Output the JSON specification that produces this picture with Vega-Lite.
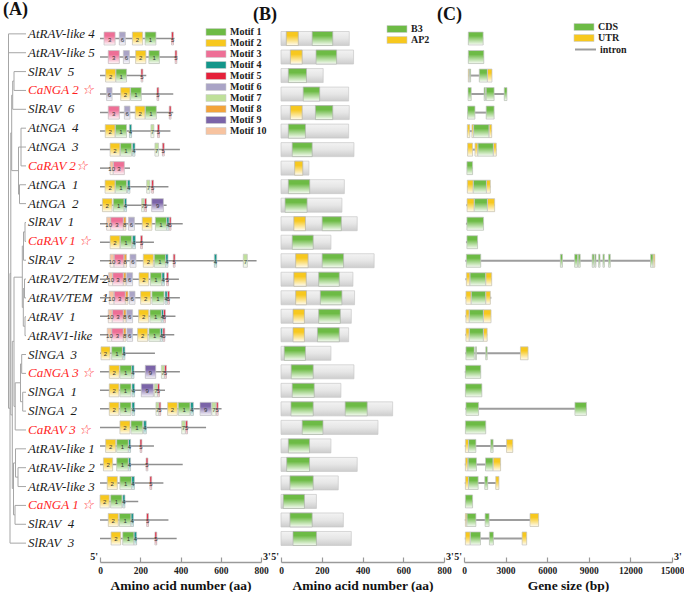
{
"$schema":"https://vega.github.io/schema/vega-lite/v6.json",
"padding":{"left":2,"top":0,"right":0,"bottom":0},
"bounds":"flush",
"spacing":20,
"background":"white",
"config":{
 "view":{"stroke":null},
 "font":"Liberation Serif",
 "axis":{"grid":false,"labelFont":"Liberation Serif","labelFontWeight":"bold","labelFontSize":9.5,"labelColor":"#222","labelOverlap":false,"format":"d","titleFont":"Liberation Serif","titleFontWeight":"bold","titleFontSize":13.5,"titleColor":"#111","domainColor":"#9a9a9a","domainWidth":1.5,"tickColor":"#9a9a9a","tickSize":-5,"tickWidth":1.2,"labelPadding":8,"titlePadding":4,"labelFlush":false},
 "legend":{"title":null,"orient":"none","labelFont":"Liberation Serif","labelFontWeight":"bold","labelFontSize":10,"labelColor":"#222","symbolType":"M-2.86,-1H2.86V1H-2.86Z","symbolSize":49,"symbolStrokeColor":"#cccccc","symbolStrokeWidth":0.6,"labelOffset":9,"rowPadding":1,"padding":0}
},
"resolve":{"scale":{"fill":"independent","stroke":"independent","color":"independent"},"legend":{"fill":"independent","stroke":"independent","color":"independent"}},
"datasets":{
 "tree":[
  {"x":14,"x2":14,"y":2,"y2":3},{"x":12.7,"x2":12.7,"y":2.5,"y2":4},{"x":21,"x2":21,"y":5,"y2":7},{"x":19.5,"x2":19.5,"y":8,"y2":9},{"x":18.5,"x2":18.5,"y":6,"y2":8.5},{"x":11.7,"x2":11.7,"y":3.25,"y2":7.25},{"x":25,"x2":25,"y":10,"y2":11},{"x":23.5,"x2":23.5,"y":10.5,"y2":12},{"x":24.5,"x2":24.5,"y":13,"y2":14},{"x":25,"x2":25,"y":15,"y2":16},{"x":23.3,"x2":23.3,"y":13.5,"y2":15.5},{"x":22.3,"x2":22.3,"y":11.25,"y2":14.5},{"x":21.7,"x2":21.7,"y":17,"y2":18},{"x":22.7,"x2":22.7,"y":19,"y2":20},{"x":20.5,"x2":20.5,"y":17.5,"y2":19.5},{"x":15.2,"x2":15.2,"y":18.5,"y2":21},{"x":14,"x2":14,"y":12.9,"y2":19.75},{"x":18,"x2":18,"y":23,"y2":24},{"x":15.5,"x2":15.5,"y":22,"y2":23.5},{"x":15,"x2":15,"y":25,"y2":26},{"x":13.5,"x2":13.5,"y":22.75,"y2":25.5},{"x":12.3,"x2":12.3,"y":16.3,"y2":24.1},{"x":10.8,"x2":10.8,"y":5.25,"y2":20.2},{"x":10,"x2":10,"y":12.7,"y2":27},{"x":8.5,"x2":8.5,"y":0,"y2":19.85},
  {"x":8.5,"x2":26,"y":0,"y2":0},{"x":8.5,"x2":26,"y":1,"y2":1},{"x":8.5,"x2":10,"y":19.85,"y2":19.85},{"x":10,"x2":10.8,"y":12.7,"y2":12.7},{"x":10,"x2":26,"y":27,"y2":27},{"x":10.8,"x2":11.7,"y":5.25,"y2":5.25},{"x":10.8,"x2":12.3,"y":20.2,"y2":20.2},{"x":11.7,"x2":12.7,"y":3.25,"y2":3.25},{"x":11.7,"x2":18.5,"y":7.25,"y2":7.25},{"x":12.7,"x2":14,"y":2.5,"y2":2.5},{"x":12.7,"x2":26,"y":4,"y2":4},{"x":14,"x2":26,"y":2,"y2":2},{"x":14,"x2":26,"y":3,"y2":3},{"x":18.5,"x2":21,"y":6,"y2":6},{"x":18.5,"x2":19.5,"y":8.5,"y2":8.5},{"x":21,"x2":26,"y":5,"y2":5},{"x":21,"x2":26,"y":6,"y2":6},{"x":21,"x2":26,"y":7,"y2":7},{"x":19.5,"x2":26,"y":8,"y2":8},{"x":19.5,"x2":26,"y":9,"y2":9},{"x":12.3,"x2":14,"y":16.3,"y2":16.3},{"x":12.3,"x2":13.5,"y":24.1,"y2":24.1},{"x":14,"x2":22.3,"y":12.9,"y2":12.9},{"x":14,"x2":15.2,"y":19.75,"y2":19.75},{"x":22.3,"x2":23.5,"y":11.25,"y2":11.25},{"x":22.3,"x2":23.3,"y":14.5,"y2":14.5},{"x":23.5,"x2":25,"y":10.5,"y2":10.5},{"x":23.5,"x2":26,"y":12,"y2":12},{"x":25,"x2":26,"y":10,"y2":10},{"x":25,"x2":26,"y":11,"y2":11},{"x":23.3,"x2":24.5,"y":13.5,"y2":13.5},{"x":23.3,"x2":25,"y":15.5,"y2":15.5},{"x":24.5,"x2":26,"y":13,"y2":13},{"x":24.5,"x2":26,"y":14,"y2":14},{"x":25,"x2":26,"y":15,"y2":15},{"x":25,"x2":26,"y":16,"y2":16},{"x":15.2,"x2":20.5,"y":18.5,"y2":18.5},{"x":15.2,"x2":26,"y":21,"y2":21},{"x":20.5,"x2":21.7,"y":17.5,"y2":17.5},{"x":20.5,"x2":22.7,"y":19.5,"y2":19.5},{"x":21.7,"x2":26,"y":17,"y2":17},{"x":21.7,"x2":26,"y":18,"y2":18},{"x":22.7,"x2":26,"y":19,"y2":19},{"x":22.7,"x2":26,"y":20,"y2":20},{"x":13.5,"x2":15.5,"y":22.75,"y2":22.75},{"x":13.5,"x2":15,"y":25.5,"y2":25.5},{"x":15.5,"x2":26,"y":22,"y2":22},{"x":15.5,"x2":18,"y":23.5,"y2":23.5},{"x":18,"x2":26,"y":23,"y2":23},{"x":18,"x2":26,"y":24,"y2":24},{"x":15,"x2":26,"y":25,"y2":25},{"x":15,"x2":26,"y":26,"y2":26}
 ],
 "names":[
  {"r":0,"n":"AtRAV-like 4","c":"o"},{"r":1,"n":"AtRAV-like 5","c":"o"},{"r":2,"n":"SlRAV\u00a0 5","c":"o"},{"r":3,"n":"CaNGA 2 \u2606","c":"ca"},{"r":4,"n":"SlRAV\u00a0 6","c":"o"},{"r":5,"n":"AtNGA\u00a0 4","c":"o"},{"r":6,"n":"AtNGA\u00a0 3","c":"o"},{"r":7,"n":"CaRAV 2\u2606","c":"ca"},{"r":8,"n":"AtNGA\u00a0 1","c":"o"},{"r":9,"n":"AtNGA\u00a0 2","c":"o"},{"r":10,"n":"SlRAV\u00a0 1","c":"o"},{"r":11,"n":"CaRAV 1 \u2606","c":"ca"},{"r":12,"n":"SlRAV\u00a0 2","c":"o"},{"r":13,"n":"AtRAV2/TEM 2","c":"o"},{"r":14,"n":"AtRAV/TEM\u00a0 \u00a01","c":"o"},{"r":15,"n":"AtRAV\u00a0 1","c":"o"},{"r":16,"n":"AtRAV1-like","c":"o"},{"r":17,"n":"SlNGA\u00a0 3","c":"o"},{"r":18,"n":"CaNGA 3 \u2606","c":"ca"},{"r":19,"n":"SlNGA\u00a0 1","c":"o"},{"r":20,"n":"SlNGA\u00a0 2","c":"o"},{"r":21,"n":"CaRAV 3 \u2606","c":"ca"},{"r":22,"n":"AtRAV-like 1","c":"o"},{"r":23,"n":"AtRAV-like 2","c":"o"},{"r":24,"n":"AtRAV-like 3","c":"o"},{"r":25,"n":"CaNGA 1 \u2606","c":"ca"},{"r":26,"n":"SlRAV\u00a0 4","c":"o"},{"r":27,"n":"SlRAV\u00a0 3","c":"o"}
 ],
 "protA":[
  {"r":0,"s":0,"len":370},{"r":1,"s":0,"len":385},{"r":2,"s":0,"len":230},{"r":3,"s":0,"len":364},{"r":4,"s":0,"len":364},{"r":5,"s":0,"len":350},{"r":6,"s":0,"len":397},{"r":7,"s":0,"len":149},{"r":8,"s":0,"len":340},{"r":9,"s":0,"len":331},{"r":10,"s":0,"len":411},{"r":11,"s":0,"len":268},{"r":12,"s":0,"len":778},{"r":13,"s":0,"len":392},{"r":14,"s":0,"len":397},{"r":15,"s":0,"len":375},{"r":16,"s":0,"len":369},{"r":17,"s":0,"len":273},{"r":18,"s":0,"len":397},{"r":19,"s":0,"len":323},{"r":20,"s":0,"len":604},{"r":21,"s":0,"len":527},{"r":22,"s":0,"len":268},{"r":23,"s":0,"len":411},{"r":24,"s":0,"len":315},{"r":25,"s":0,"len":190},{"r":26,"s":0,"len":340},{"r":27,"s":0,"len":381}
 ],
 "motifs":[
  {"r":0,"m":3,"s":20,"e":75},{"r":0,"m":6,"s":96,"e":126},{"r":0,"m":2,"s":161,"e":212},{"r":0,"m":1,"s":224,"e":278},{"r":0,"m":5,"s":356,"e":365},
  {"r":1,"m":3,"s":41,"e":96},{"r":1,"m":6,"s":116,"e":146},{"r":1,"m":2,"s":177,"e":228},{"r":1,"m":1,"s":243,"e":295},{"r":1,"m":5,"s":373,"e":382},
  {"r":2,"m":2,"s":28,"e":78},{"r":2,"m":1,"s":79,"e":132},{"r":2,"m":5,"s":204,"e":213},
  {"r":3,"m":6,"s":33,"e":60},{"r":3,"m":2,"s":103,"e":149},{"r":3,"m":1,"s":152,"e":205},{"r":3,"m":5,"s":283,"e":292},
  {"r":4,"m":3,"s":41,"e":96},{"r":4,"m":6,"s":121,"e":149},{"r":4,"m":2,"s":175,"e":224},{"r":4,"m":1,"s":225,"e":280},{"r":4,"m":5,"s":344,"e":353},
  {"r":5,"m":2,"s":26,"e":75},{"r":5,"m":1,"s":76,"e":132},{"r":5,"m":4,"s":146,"e":157},{"r":5,"m":7,"s":253,"e":268},{"r":5,"m":5,"s":286,"e":295},
  {"r":6,"m":2,"s":50,"e":99},{"r":6,"m":1,"s":101,"e":157},{"r":6,"m":4,"s":162,"e":174},{"r":6,"m":7,"s":273,"e":291},{"r":6,"m":5,"s":310,"e":319},
  {"r":7,"m":10,"s":50,"e":66},{"r":7,"m":3,"s":66,"e":121},
  {"r":8,"m":2,"s":25,"e":75},{"r":8,"m":1,"s":76,"e":132},{"r":8,"m":4,"s":137,"e":149},{"r":8,"m":7,"s":232,"e":248},{"r":8,"m":5,"s":257,"e":266},
  {"r":9,"m":2,"s":12,"e":60},{"r":9,"m":1,"s":66,"e":119},{"r":9,"m":4,"s":121,"e":132},{"r":9,"m":7,"s":207,"e":219},{"r":9,"m":5,"s":222,"e":231},{"r":9,"m":9,"s":257,"e":315},
  {"r":10,"m":10,"s":33,"e":53},{"r":10,"m":3,"s":53,"e":116},{"r":10,"m":8,"s":116,"e":129},{"r":10,"m":6,"s":141,"e":171},{"r":10,"m":2,"s":210,"e":258},{"r":10,"m":1,"s":275,"e":331},{"r":10,"m":4,"s":331,"e":343},{"r":10,"m":5,"s":344,"e":353},
  {"r":11,"m":2,"s":50,"e":99},{"r":11,"m":1,"s":101,"e":157},{"r":11,"m":4,"s":162,"e":176},{"r":11,"m":5,"s":202,"e":211},
  {"r":12,"m":10,"s":50,"e":70},{"r":12,"m":3,"s":70,"e":119},{"r":12,"m":8,"s":119,"e":132},{"r":12,"m":6,"s":149,"e":179},{"r":12,"m":2,"s":215,"e":265},{"r":12,"m":1,"s":270,"e":326},{"r":12,"m":4,"s":326,"e":338},{"r":12,"m":5,"s":364,"e":373},{"r":12,"m":4,"s":568,"e":580},{"r":12,"m":7,"s":712,"e":732},
  {"r":13,"m":10,"s":43,"e":63},{"r":13,"m":3,"s":63,"e":116},{"r":13,"m":8,"s":116,"e":129},{"r":13,"m":6,"s":132,"e":162},{"r":13,"m":2,"s":194,"e":242},{"r":13,"m":1,"s":250,"e":306},{"r":13,"m":4,"s":308,"e":320},{"r":13,"m":5,"s":331,"e":340},
  {"r":14,"m":10,"s":46,"e":70},{"r":14,"m":3,"s":70,"e":126},{"r":14,"m":8,"s":126,"e":139},{"r":14,"m":6,"s":146,"e":174},{"r":14,"m":2,"s":202,"e":252},{"r":14,"m":1,"s":258,"e":318},{"r":14,"m":4,"s":323,"e":334},{"r":14,"m":5,"s":336,"e":345},
  {"r":15,"m":10,"s":41,"e":61},{"r":15,"m":3,"s":61,"e":116},{"r":15,"m":8,"s":116,"e":129},{"r":15,"m":6,"s":132,"e":162},{"r":15,"m":2,"s":192,"e":242},{"r":15,"m":1,"s":248,"e":305},{"r":15,"m":4,"s":305,"e":315},{"r":15,"m":5,"s":316,"e":325},
  {"r":16,"m":10,"s":36,"e":58},{"r":16,"m":3,"s":58,"e":116},{"r":16,"m":8,"s":116,"e":129},{"r":16,"m":6,"s":134,"e":162},{"r":16,"m":2,"s":187,"e":237},{"r":16,"m":1,"s":243,"e":300},{"r":16,"m":4,"s":300,"e":311},{"r":16,"m":5,"s":313,"e":322},
  {"r":17,"m":2,"s":5,"e":50},{"r":17,"m":1,"s":58,"e":111},{"r":17,"m":4,"s":113,"e":124},
  {"r":18,"m":2,"s":46,"e":96},{"r":18,"m":1,"s":99,"e":157},{"r":18,"m":4,"s":157,"e":169},{"r":18,"m":9,"s":225,"e":277},{"r":18,"m":7,"s":305,"e":320},{"r":18,"m":5,"s":321,"e":330},
  {"r":19,"m":2,"s":46,"e":94},{"r":19,"m":1,"s":99,"e":154},{"r":19,"m":4,"s":159,"e":172},{"r":19,"m":9,"s":205,"e":265},{"r":19,"m":7,"s":270,"e":285},{"r":19,"m":5,"s":286,"e":295},
  {"r":20,"m":2,"s":46,"e":94},{"r":20,"m":1,"s":99,"e":154},{"r":20,"m":4,"s":159,"e":172},{"r":20,"m":7,"s":278,"e":293},{"r":20,"m":5,"s":293,"e":302},{"r":20,"m":2,"s":336,"e":384},{"r":20,"m":1,"s":389,"e":447},{"r":20,"m":4,"s":450,"e":464},{"r":20,"m":9,"s":497,"e":553},{"r":20,"m":7,"s":556,"e":576},{"r":20,"m":5,"s":578,"e":587},
  {"r":21,"m":2,"s":99,"e":149},{"r":21,"m":1,"s":154,"e":212},{"r":21,"m":4,"s":217,"e":230},{"r":21,"m":7,"s":406,"e":424},{"r":21,"m":5,"s":426,"e":435},
  {"r":22,"m":2,"s":28,"e":78},{"r":22,"m":1,"s":83,"e":141},{"r":22,"m":4,"s":141,"e":152},{"r":22,"m":5,"s":199,"e":208},
  {"r":23,"m":2,"s":17,"e":63},{"r":23,"m":1,"s":83,"e":141},{"r":23,"m":4,"s":141,"e":152},{"r":23,"m":5,"s":229,"e":238},
  {"r":24,"m":2,"s":36,"e":86},{"r":24,"m":1,"s":99,"e":157},{"r":24,"m":4,"s":157,"e":171},{"r":24,"m":5,"s":248,"e":257},
  {"r":25,"m":2,"s":0,"e":46},{"r":25,"m":1,"s":53,"e":109},{"r":25,"m":4,"s":113,"e":124},
  {"r":26,"m":2,"s":41,"e":91},{"r":26,"m":1,"s":96,"e":154},{"r":26,"m":4,"s":154,"e":166},{"r":26,"m":5,"s":232,"e":241},
  {"r":27,"m":2,"s":55,"e":103},{"r":27,"m":1,"s":113,"e":169},{"r":27,"m":4,"s":169,"e":182},{"r":27,"m":5,"s":273,"e":282}
 ],
 "protB":[
  {"r":0,"s":0,"len":335},{"r":1,"s":0,"len":356},{"r":2,"s":0,"len":207},{"r":3,"s":0,"len":332},{"r":4,"s":0,"len":335},{"r":5,"s":0,"len":332},{"r":6,"s":0,"len":358},{"r":7,"s":0,"len":137},{"r":8,"s":0,"len":311},{"r":9,"s":0,"len":299},{"r":10,"s":0,"len":374},{"r":11,"s":0,"len":245},{"r":12,"s":0,"len":457},{"r":13,"s":0,"len":353},{"r":14,"s":0,"len":361},{"r":15,"s":0,"len":345},{"r":16,"s":0,"len":332},{"r":17,"s":0,"len":245},{"r":18,"s":0,"len":358},{"r":19,"s":0,"len":294},{"r":20,"s":0,"len":548},{"r":21,"s":0,"len":476},{"r":22,"s":0,"len":245},{"r":23,"s":0,"len":374},{"r":24,"s":0,"len":281},{"r":25,"s":0,"len":174},{"r":26,"s":0,"len":306},{"r":27,"s":0,"len":345}
 ],
 "domains":[
  {"r":0,"d":"AP2","s":26,"e":85},{"r":0,"d":"B3","s":153,"e":254},
  {"r":1,"d":"AP2","s":46,"e":104},{"r":1,"d":"B3","s":172,"e":273},
  {"r":2,"d":"B3","s":36,"e":125},
  {"r":3,"d":"B3","s":109,"e":190},
  {"r":4,"d":"AP2","s":46,"e":104},{"r":4,"d":"B3","s":169,"e":254},
  {"r":5,"d":"B3","s":36,"e":120},
  {"r":6,"d":"B3","s":55,"e":153},
  {"r":7,"d":"AP2","s":67,"e":107},
  {"r":8,"d":"B3","s":36,"e":141},
  {"r":9,"d":"B3","s":20,"e":128},
  {"r":10,"d":"AP2","s":63,"e":120},{"r":10,"d":"B3","s":202,"e":296},
  {"r":11,"d":"B3","s":55,"e":158},
  {"r":12,"d":"AP2","s":72,"e":133},{"r":12,"d":"B3","s":202,"e":307},
  {"r":13,"d":"AP2","s":63,"e":124},{"r":13,"d":"B3","s":185,"e":286},
  {"r":14,"d":"AP2","s":72,"e":125},{"r":14,"d":"B3","s":193,"e":299},
  {"r":15,"d":"AP2","s":59,"e":115},{"r":15,"d":"B3","s":185,"e":291},
  {"r":16,"d":"AP2","s":59,"e":115},{"r":16,"d":"B3","s":179,"e":286},
  {"r":17,"d":"B3","s":16,"e":120},
  {"r":18,"d":"B3","s":50,"e":158},
  {"r":19,"d":"B3","s":55,"e":163},
  {"r":20,"d":"B3","s":49,"e":158},{"r":20,"d":"B3","s":315,"e":423},
  {"r":21,"d":"B3","s":104,"e":206},
  {"r":22,"d":"B3","s":36,"e":140},
  {"r":23,"d":"B3","s":28,"e":140},
  {"r":24,"d":"B3","s":44,"e":158},
  {"r":25,"d":"B3","s":11,"e":115},
  {"r":26,"d":"B3","s":44,"e":153},
  {"r":27,"d":"B3","s":59,"e":174}
 ],
 "genes":[
  {"r":0,"s":310,"e":1380,"k":"intron"},{"r":1,"s":310,"e":1430,"k":"intron"},{"r":2,"s":310,"e":2020,"k":"intron"},{"r":3,"s":290,"e":3100,"k":"intron"},{"r":4,"s":260,"e":2170,"k":"intron"},{"r":5,"s":240,"e":2000,"k":"intron"},{"r":6,"s":260,"e":2330,"k":"intron"},{"r":7,"s":210,"e":620,"k":"intron"},{"r":8,"s":240,"e":1900,"k":"intron"},{"r":9,"s":170,"e":2210,"k":"intron"},{"r":10,"s":140,"e":1410,"k":"intron"},{"r":11,"s":140,"e":980,"k":"intron"},{"r":12,"s":100,"e":13760,"k":"intron"},{"r":13,"s":100,"e":2000,"k":"intron"},{"r":14,"s":100,"e":1970,"k":"intron"},{"r":15,"s":100,"e":1950,"k":"intron"},{"r":16,"s":100,"e":1670,"k":"intron"},{"r":17,"s":100,"e":4620,"k":"intron"},{"r":18,"s":60,"e":1210,"k":"intron"},{"r":19,"s":100,"e":1290,"k":"intron"},{"r":20,"s":100,"e":8830,"k":"intron"},{"r":21,"s":100,"e":1570,"k":"intron"},{"r":22,"s":60,"e":3520,"k":"intron"},{"r":23,"s":60,"e":2640,"k":"intron"},{"r":24,"s":60,"e":2520,"k":"intron"},{"r":25,"s":100,"e":620,"k":"intron"},{"r":26,"s":60,"e":5380,"k":"intron"},{"r":27,"s":60,"e":4520,"k":"intron"}
 ],
 "exons":[
  {"r":0,"t":"CDS","s":310,"e":1380},
  {"r":1,"t":"CDS","s":310,"e":1430},
  {"r":2,"t":"UTR","s":310,"e":380},{"r":2,"t":"CDS","s":380,"e":480},{"r":2,"t":"CDS","s":1100,"e":1690},{"r":2,"t":"UTR","s":1690,"e":2020},
  {"r":3,"t":"CDS","s":290,"e":520},{"r":3,"t":"CDS","s":1450,"e":1550},{"r":3,"t":"CDS","s":1600,"e":2170},{"r":3,"t":"CDS","s":2900,"e":3100},
  {"r":4,"t":"CDS","s":260,"e":790},{"r":4,"t":"CDS","s":1600,"e":2170},
  {"r":5,"t":"UTR","s":240,"e":420},{"r":5,"t":"UTR","s":570,"e":690},{"r":5,"t":"CDS","s":690,"e":1810},{"r":5,"t":"UTR","s":1810,"e":2000},
  {"r":6,"t":"UTR","s":260,"e":620},{"r":6,"t":"UTR","s":790,"e":1000},{"r":6,"t":"CDS","s":1000,"e":2120},{"r":6,"t":"UTR","s":2120,"e":2330},
  {"r":7,"t":"CDS","s":210,"e":620},
  {"r":8,"t":"UTR","s":240,"e":670},{"r":8,"t":"CDS","s":670,"e":1620},{"r":8,"t":"UTR","s":1620,"e":1900},
  {"r":9,"t":"UTR","s":220,"e":740},{"r":9,"t":"CDS","s":740,"e":1690},{"r":9,"t":"UTR","s":1690,"e":2210},
  {"r":10,"t":"CDS","s":210,"e":1410},
  {"r":11,"t":"CDS","s":210,"e":980},
  {"r":12,"t":"CDS","s":170,"e":1210},{"r":12,"t":"CDS","s":6950,"e":7100},{"r":12,"t":"CDS","s":7980,"e":8190},{"r":12,"t":"CDS","s":8240,"e":8380},{"r":12,"t":"CDS","s":9240,"e":9380},{"r":12,"t":"CDS","s":9430,"e":9520},{"r":12,"t":"CDS","s":9710,"e":9810},{"r":12,"t":"CDS","s":10020,"e":10120},{"r":12,"t":"CDS","s":10430,"e":10550},{"r":12,"t":"CDS","s":13450,"e":13640},{"r":12,"t":"UTR","s":13640,"e":13760},
  {"r":13,"t":"UTR","s":170,"e":430},{"r":13,"t":"CDS","s":430,"e":1570},{"r":13,"t":"UTR","s":1570,"e":2000},
  {"r":14,"t":"UTR","s":140,"e":520},{"r":14,"t":"CDS","s":520,"e":1570},{"r":14,"t":"UTR","s":1570,"e":1900},
  {"r":15,"t":"UTR","s":140,"e":380},{"r":15,"t":"CDS","s":380,"e":1400},{"r":15,"t":"UTR","s":1400,"e":1950},
  {"r":16,"t":"UTR","s":140,"e":380},{"r":16,"t":"CDS","s":380,"e":1400},{"r":16,"t":"UTR","s":1400,"e":1670},
  {"r":17,"t":"CDS","s":140,"e":740},{"r":17,"t":"CDS","s":830,"e":900},{"r":17,"t":"CDS","s":1570,"e":1670},{"r":17,"t":"UTR","s":4070,"e":4620},
  {"r":18,"t":"CDS","s":100,"e":1210},
  {"r":19,"t":"CDS","s":100,"e":1290},
  {"r":20,"t":"CDS","s":140,"e":1050},{"r":20,"t":"CDS","s":8000,"e":8830},
  {"r":21,"t":"CDS","s":100,"e":1570},
  {"r":22,"t":"UTR","s":100,"e":330},{"r":22,"t":"CDS","s":330,"e":860},{"r":22,"t":"CDS","s":1930,"e":2100},{"r":22,"t":"UTR","s":3070,"e":3520},
  {"r":23,"t":"UTR","s":100,"e":290},{"r":23,"t":"CDS","s":290,"e":900},{"r":23,"t":"CDS","s":1550,"e":2100},{"r":23,"t":"UTR","s":2100,"e":2640},
  {"r":24,"t":"UTR","s":100,"e":330},{"r":24,"t":"CDS","s":330,"e":1020},{"r":24,"t":"CDS","s":1500,"e":1710},{"r":24,"t":"UTR","s":2290,"e":2520},
  {"r":25,"t":"CDS","s":100,"e":620},
  {"r":26,"t":"UTR","s":100,"e":210},{"r":26,"t":"CDS","s":210,"e":860},{"r":26,"t":"CDS","s":1520,"e":1810},{"r":26,"t":"UTR","s":4760,"e":5380},
  {"r":27,"t":"UTR","s":100,"e":450},{"r":27,"t":"CDS","s":450,"e":1190},{"r":27,"t":"CDS","s":1830,"e":2120},{"r":27,"t":"UTR","s":4190,"e":4520}
 ],
 "endsAA":[{"t":"5'","v":0,"r":28,"side":"L"},{"t":"3'","v":800,"r":28,"side":"R"}],
 "endsBP":[{"t":"5'","v":0,"r":28,"side":"L"},{"t":"3'","v":15000,"r":28,"side":"R"}]
},
"hconcat":[
 {
  "width":78,"height":547,
  "layer":[
   {"data":{"name":"tree"},"mark":{"type":"rule","color":"#a6a6a6","strokeWidth":1},
    "encoding":{"x":{"field":"x","type":"quantitative","scale":{"domain":[2,80],"nice":false,"zero":false},"axis":null},"x2":{"field":"x2"},
     "y":{"field":"y","type":"quantitative","scale":{"domain":[-1,28],"reverse":true,"nice":false,"zero":false},"axis":null},"y2":{"field":"y2"}}},
   {"data":{"name":"names"},"mark":{"type":"text","align":"left","baseline":"middle","fontStyle":"italic","fontSize":13,"font":"Liberation Serif"},
    "encoding":{"x":{"datum":28,"type":"quantitative"},"y":{"field":"r","type":"quantitative"},"text":{"field":"n","type":"nominal"},
     "color":{"field":"c","type":"nominal","scale":{"domain":["o","ca"],"range":["#1a1a1a","#ff1f1f"]},"legend":null}}},
   {"data":{"values":[{"p":"(A)"}]},"mark":{"type":"text","align":"left","baseline":"top","dx":1,"dy":-14.5,"fontWeight":"bold","fontSize":18,"font":"Liberation Serif","color":"#111"},
    "encoding":{"x":{"datum":2,"type":"quantitative"},"y":{"datum":-1,"type":"quantitative"},"text":{"field":"p","type":"nominal"}}}
  ]
 },
 {
  "width":161,"height":547,
  "layer":[
   {"data":{"name":"protA"},"mark":{"type":"rule","color":"#8f8f8f","strokeWidth":1.5},
    "encoding":{"x":{"field":"s","type":"quantitative","scale":{"domain":[0,800],"nice":false,"zero":false},"axis":{"values":[0,100,200,300,400,500,600,700,800],"title":"Amino acid number (aa)"}},"x2":{"field":"len"},
     "y":{"field":"r","type":"quantitative","scale":{"domain":[-1,28],"reverse":true,"nice":false,"zero":false},"axis":null}}},
   {"data":{"name":"motifs"},"mark":{"type":"bar","size":13},
    "encoding":{"x":{"field":"s","type":"quantitative"},"x2":{"field":"e"},"y":{"field":"r","type":"quantitative"},
     "fill":{"field":"m","type":"ordinal","scale":{"domain":[1,2,3,4,5,6,7,8,9,10],"range":["#6dbb45","#f7c81e","#ee6f96","#13968a","#e5203a","#aaa4c6","#bfe09a","#f3a33a","#7b64a8","#f7c3a0"]},
      "legend":{"labelExpr":"'Motif ' + datum.label","legendX":111,"legendY":12}}}},
   {"data":{"name":"motifs"},"mark":{"type":"bar","size":13,"stroke":"#c4c4c4","strokeWidth":0.7,"fill":{"gradient":"linear","x1":0,"y1":0,"x2":0,"y2":1,"stops":[{"offset":0,"color":"rgba(255,255,255,0)"},{"offset":0.3,"color":"rgba(255,255,255,0)"},{"offset":1,"color":"rgba(255,255,255,0.95)"}]}},
    "encoding":{"x":{"field":"s","type":"quantitative"},"x2":{"field":"e"},"y":{"field":"r","type":"quantitative"}}},
   {"data":{"name":"motifs"},"transform":[{"window":[{"op":"row_number","as":"id"}]},{"fold":["s","e"],"as":["k","v"]}],
    "mark":{"type":"text","fontSize":6,"font":"Liberation Sans","color":"#333","baseline":"middle","dy":1},
    "encoding":{"x":{"aggregate":"mean","field":"v","type":"quantitative"},"y":{"field":"r","type":"quantitative"},"detail":{"field":"id","type":"nominal"},"text":{"field":"m","type":"nominal"}}},
   {"data":{"name":"endsAA"},"transform":[{"filter":"datum.side == 'L'"}],"mark":{"type":"text","align":"right","dx":-2,"dy":3,"baseline":"alphabetic","fontWeight":"bold","fontSize":10,"color":"#222"},
    "encoding":{"x":{"field":"v","type":"quantitative"},"y":{"field":"r","type":"quantitative"},"text":{"field":"t","type":"nominal"}}},
   {"data":{"name":"endsAA"},"transform":[{"filter":"datum.side == 'R'"}],"mark":{"type":"text","align":"left","dx":2,"dy":3,"baseline":"alphabetic","fontWeight":"bold","fontSize":10,"color":"#222"},
    "encoding":{"x":{"field":"v","type":"quantitative"},"y":{"field":"r","type":"quantitative"},"text":{"field":"t","type":"nominal"}}}
  ]
 },
 {
  "width":163,"height":547,
  "layer":[
   {"data":{"name":"protB"},"mark":{"type":"bar","size":14,"stroke":"#c8c8c8","strokeWidth":0.7,"fill":{"gradient":"linear","x1":0,"y1":0,"x2":0,"y2":1,"stops":[{"offset":0,"color":"#f3f3f3"},{"offset":0.5,"color":"#e6e6e6"},{"offset":1,"color":"#cdcdcd"}]}},
    "encoding":{"x":{"field":"s","type":"quantitative","scale":{"domain":[0,800],"nice":false,"zero":false},"axis":{"values":[0,100,200,300,400,500,600,700,800],"title":"Amino acid number (aa)"}},"x2":{"field":"len"},
     "y":{"field":"r","type":"quantitative","scale":{"domain":[-1,28],"reverse":true,"nice":false,"zero":false},"axis":null}}},
   {"data":{"name":"domains"},"mark":{"type":"bar","size":14},
    "encoding":{"x":{"field":"s","type":"quantitative"},"x2":{"field":"e"},"y":{"field":"r","type":"quantitative"},
     "fill":{"field":"d","type":"nominal","scale":{"domain":["B3","AP2"],"range":["#6dbb45","#f7c81e"]},"legend":{"legendX":111,"legendY":9}}}},
   {"data":{"name":"domains"},"mark":{"type":"bar","size":14,"stroke":"#b5b5b5","strokeWidth":0.7,"fill":{"gradient":"linear","x1":0,"y1":0,"x2":0,"y2":1,"stops":[{"offset":0,"color":"rgba(255,255,255,0)"},{"offset":0.3,"color":"rgba(255,255,255,0)"},{"offset":1,"color":"rgba(255,255,255,0.95)"}]}},
    "encoding":{"x":{"field":"s","type":"quantitative"},"x2":{"field":"e"},"y":{"field":"r","type":"quantitative"}}},
   {"data":{"name":"endsAA"},"transform":[{"filter":"datum.side == 'L'"}],"mark":{"type":"text","align":"right","dx":-2,"dy":3,"baseline":"alphabetic","fontWeight":"bold","fontSize":10,"color":"#222"},
    "encoding":{"x":{"field":"v","type":"quantitative"},"y":{"field":"r","type":"quantitative"},"text":{"field":"t","type":"nominal"}}},
   {"data":{"name":"endsAA"},"transform":[{"filter":"datum.side == 'R'"}],"mark":{"type":"text","align":"left","dx":2,"dy":3,"baseline":"alphabetic","fontWeight":"bold","fontSize":10,"color":"#222"},
    "encoding":{"x":{"field":"v","type":"quantitative"},"y":{"field":"r","type":"quantitative"},"text":{"field":"t","type":"nominal"}}},
   {"data":{"values":[{"p":"(B)"}]},"mark":{"type":"text","align":"left","baseline":"top","dx":-28,"dy":-14.5,"fontWeight":"bold","fontSize":18,"font":"Liberation Serif","color":"#111"},
    "encoding":{"x":{"datum":0,"type":"quantitative"},"y":{"datum":-1,"type":"quantitative"},"text":{"field":"p","type":"nominal"}}}
  ]
 },
 {
  "width":208,"height":547,
  "layer":[
   {"data":{"name":"genes"},"mark":{"type":"rule","strokeWidth":2},
    "encoding":{"x":{"field":"s","type":"quantitative","scale":{"domain":[0,15000],"nice":false,"zero":false},"axis":{"values":[0,3000,6000,9000,12000,15000],"title":"Gene size (bp)"}},"x2":{"field":"e"},
     "y":{"field":"r","type":"quantitative","scale":{"domain":[-1,28],"reverse":true,"nice":false,"zero":false},"axis":null},
     "stroke":{"field":"k","type":"nominal","scale":{"range":["#9d9d9d"]},"legend":{"legendX":110,"legendY":23,"symbolType":"stroke","symbolSize":441,"symbolStrokeWidth":2,"labelOffset":3}}}},
   {"data":{"name":"exons"},"mark":{"type":"bar","size":13},
    "encoding":{"x":{"field":"s","type":"quantitative"},"x2":{"field":"e"},"y":{"field":"r","type":"quantitative"},
     "fill":{"field":"t","type":"nominal","scale":{"domain":["CDS","UTR"],"range":["#6dbb45","#f7c81e"]},"legend":{"legendX":115,"legendY":7}}}},
   {"data":{"name":"exons"},"mark":{"type":"bar","size":13,"stroke":"#c4c4c4","strokeWidth":0.7,"fill":{"gradient":"linear","x1":0,"y1":0,"x2":0,"y2":1,"stops":[{"offset":0,"color":"rgba(255,255,255,0)"},{"offset":0.3,"color":"rgba(255,255,255,0)"},{"offset":1,"color":"rgba(255,255,255,0.95)"}]}},
    "encoding":{"x":{"field":"s","type":"quantitative"},"x2":{"field":"e"},"y":{"field":"r","type":"quantitative"}}},
   {"data":{"name":"endsBP"},"transform":[{"filter":"datum.side == 'L'"}],"mark":{"type":"text","align":"right","dx":-2,"dy":3,"baseline":"alphabetic","fontWeight":"bold","fontSize":10,"color":"#222"},
    "encoding":{"x":{"field":"v","type":"quantitative"},"y":{"field":"r","type":"quantitative"},"text":{"field":"t","type":"nominal"}}},
   {"data":{"name":"endsBP"},"transform":[{"filter":"datum.side == 'R'"}],"mark":{"type":"text","align":"left","dx":2,"dy":3,"baseline":"alphabetic","fontWeight":"bold","fontSize":10,"color":"#222"},
    "encoding":{"x":{"field":"v","type":"quantitative"},"y":{"field":"r","type":"quantitative"},"text":{"field":"t","type":"nominal"}}},
   {"data":{"values":[{"p":"(C)"}]},"mark":{"type":"text","align":"left","baseline":"top","dx":-27,"dy":-14.5,"fontWeight":"bold","fontSize":18,"font":"Liberation Serif","color":"#111"},
    "encoding":{"x":{"datum":0,"type":"quantitative"},"y":{"datum":-1,"type":"quantitative"},"text":{"field":"p","type":"nominal"}}}
  ]
 }
]
}
